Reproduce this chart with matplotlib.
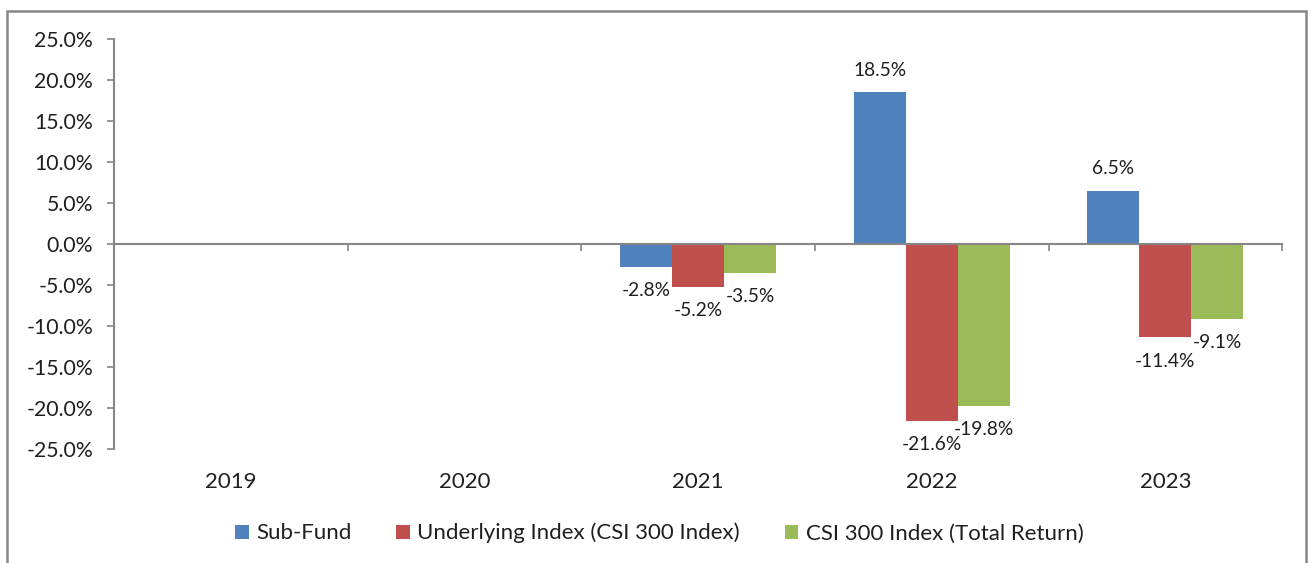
import numpy as np
import matplotlib.pyplot as plt
from matplotlib.patches import Rectangle
from matplotlib.ticker import FuncFormatter, MultipleLocator

years = ['2019', '2020', '2021', '2022', '2023']
series_names = ['Sub-Fund', 'Underlying Index (CSI 300 Index)', 'CSI 300 Index (Total Return)']
sub_fund = [np.nan, np.nan, -2.8, 18.5, 6.5]
underlying = [np.nan, np.nan, -5.2, -21.6, -11.4]
csi_total = [np.nan, np.nan, -3.5, -19.8, -9.1]
colors = ['#4F81BD', '#C0504D', '#9BBB59']

plt.rcParams['font.family'] = ['Lato', 'DejaVu Sans']
text_color = '#1f1f1f'
axis_color = '#868686'

fig = plt.figure(figsize=(13.11, 5.63), dpi=100)
ax = fig.add_axes([0.087, 0.2025, 0.891, 0.7282])

x = np.arange(len(years))
width = 1 / 4.5
for i, (name, vals, c) in enumerate(zip(series_names, [sub_fund, underlying, csi_total], colors)):
    pos = x + (i - 1) * width
    ax.bar(pos, vals, width, color=c, label=name)
    for xp, v in zip(pos, vals):
        if np.isnan(v):
            continue
        off = 16 if v > 0 else -17
        ax.annotate(f'{v:.1f}%', (xp, v), xytext=(0, off), textcoords='offset points',
                    ha='center', va='center', fontsize=13.8, color=text_color)

ax.set_xlim(-0.5, len(years) - 0.5)
ax.set_ylim(-25, 25)
ax.yaxis.set_major_locator(MultipleLocator(5))
ax.yaxis.set_major_formatter(FuncFormatter(lambda v, p: f'{v:.1f}%'))
ax.tick_params(axis='y', direction='out', length=5, width=1.2, color=axis_color,
               labelsize=15.3, labelcolor=text_color, pad=10)

for s in ['top', 'right']:
    ax.spines[s].set_visible(False)
ax.spines['left'].set_color(axis_color)
ax.spines['left'].set_linewidth(1.5)
ax.spines['bottom'].set_position(('data', 0))
ax.spines['bottom'].set_color(axis_color)
ax.spines['bottom'].set_linewidth(1.5)

ax.set_xticks(np.arange(len(years) + 1) - 0.5)
ax.set_xticklabels([])
ax.tick_params(axis='x', direction='out', length=5, width=1.2, color=axis_color)

for xi, yr in zip(x, years):
    ax.text(xi, -0.08, yr, transform=ax.get_xaxis_transform(), ha='center', va='center',
            fontsize=16, color=text_color)

ax.legend(loc='center', bbox_to_anchor=(0.503, 0.053), bbox_transform=fig.transFigure,
          ncol=3, frameon=False, fontsize=16, handlelength=0.6, handleheight=0.6,
          handletextpad=0.35, columnspacing=2.0, labelcolor=text_color)

fig.patches.append(Rectangle((7 / 1311, -0.02), 1299 / 1311, 1 - 11 / 563 + 0.02,
                             transform=fig.transFigure, fill=False,
                             edgecolor=axis_color, linewidth=1.8))

fig.savefig('out.png', dpi=100)
